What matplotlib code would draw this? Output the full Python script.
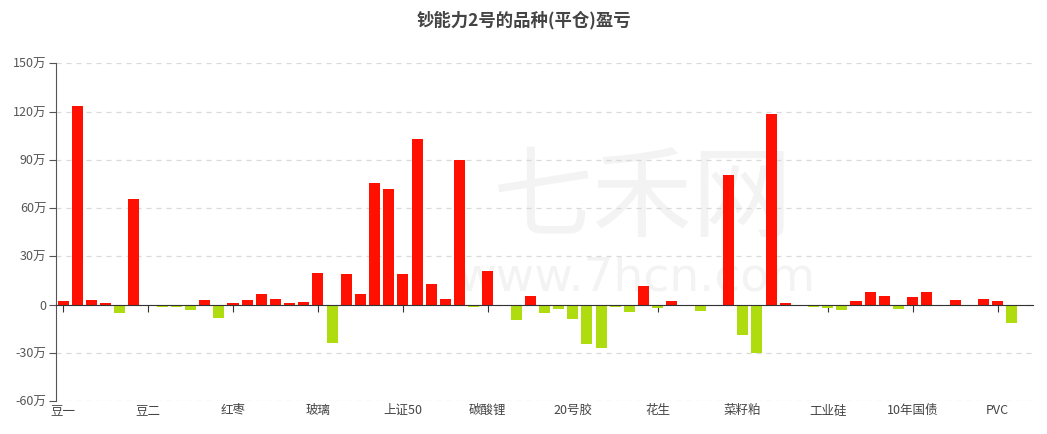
import matplotlib
matplotlib.use('Agg')
import matplotlib.pyplot as plt
import numpy as np

plt.rcParams['font.family'] = ['Noto Sans CJK SC', 'DejaVu Sans']

title = '钞能力2号的品种(平仓)盈亏'
# 每6个品种显示一个标签
tick_labels = ['豆一', '豆二', '红枣', '玻璃', '上证50', '碳酸锂',
               '20号胶', '花生', '菜籽粕', '工业硅', '10年国债', 'PVC']
# 盈亏 (万)
pnl = [2.1, 123.7, 2.7, 1.0, -5.2, 65.5,
       0.0, -1.4, -1.4, -3.5, 2.7, -8.3,
       1.0, 2.5, 6.4, 3.5, 1.2, 1.7,
       19.9, -23.8, 18.8, 6.5, 75.4, 72.1,
       19.2, 103.1, 12.5, 3.6, 89.9, -1.8,
       21.1, 0.0, -9.8, 5.3, -5.3, -2.8,
       -9.1, -24.4, -27.0, -1.3, -4.4, 11.3,
       -2.0, 2.3, 0.0, -3.9, -0.6, 80.4,
       -18.7, -29.9, 118.4, 1.2, 0.0, -1.4,
       -1.9, -3.7, 1.9, 7.5, 5.6, -2.5,
       4.7, 7.8, -0.6, 3.1, 0.0, 3.3,
       2.4, -11.5, -0.6]

red = '#ff1000'
green = '#aedc0e'

values = np.array(pnl)
x = np.arange(len(values))
colors = [red if v >= 0 else green for v in values]

fig = plt.figure(figsize=(10.47, 4.34), dpi=100)
ax = fig.add_axes([0.0535, 0.076, 0.9331, 0.7782])

# 水印
ax.text(0.60, 0.595, '七禾网', transform=ax.transAxes, ha='center', va='center',
        fontsize=72, color='#f3f3f3', zorder=0)
ax.text(0.594, 0.365, 'www.7hcn.com', transform=ax.transAxes, ha='center', va='center',
        fontsize=34, color='#f3f3f3', zorder=0, family='DejaVu Sans')

ax.bar(x, values, width=0.78, color=colors, zorder=3)

ax.set_xlim(-0.5, len(values) - 0.5)
ax.set_ylim(-60, 150)
yt = np.arange(-60, 151, 30)
ax.set_yticks(yt)
ax.set_yticklabels([f'{v}万' if v != 0 else '0' for v in yt])
ax.yaxis.grid(True, linestyle=(0, (4, 4)), color='#d9d9d9', linewidth=0.9, zorder=1)

for s in ['top', 'right']:
    ax.spines[s].set_visible(False)
ax.spines['left'].set_color('#555555')
ax.spines['bottom'].set_position(('data', 0))
ax.spines['bottom'].set_color('#333333')
ax.spines['bottom'].set_zorder(4)

ax.tick_params(axis='y', length=5, color='#555555', labelcolor='#555555', labelsize=9, pad=2)
ax.set_xticks(x[::6])
ax.tick_params(axis='x', length=5, color='#333333', labelbottom=False)

sec = ax.secondary_xaxis('bottom')
sec.set_xticks(x[::6])
sec.set_xticklabels(tick_labels)
sec.tick_params(length=0, labelsize=9, labelcolor='#444444', pad=2)
sec.spines['bottom'].set_visible(False)

fig.suptitle(title, x=0.5, y=0.975, fontsize=12.5, fontweight='bold', color='#444444')

plt.savefig('out.png', dpi=100)
